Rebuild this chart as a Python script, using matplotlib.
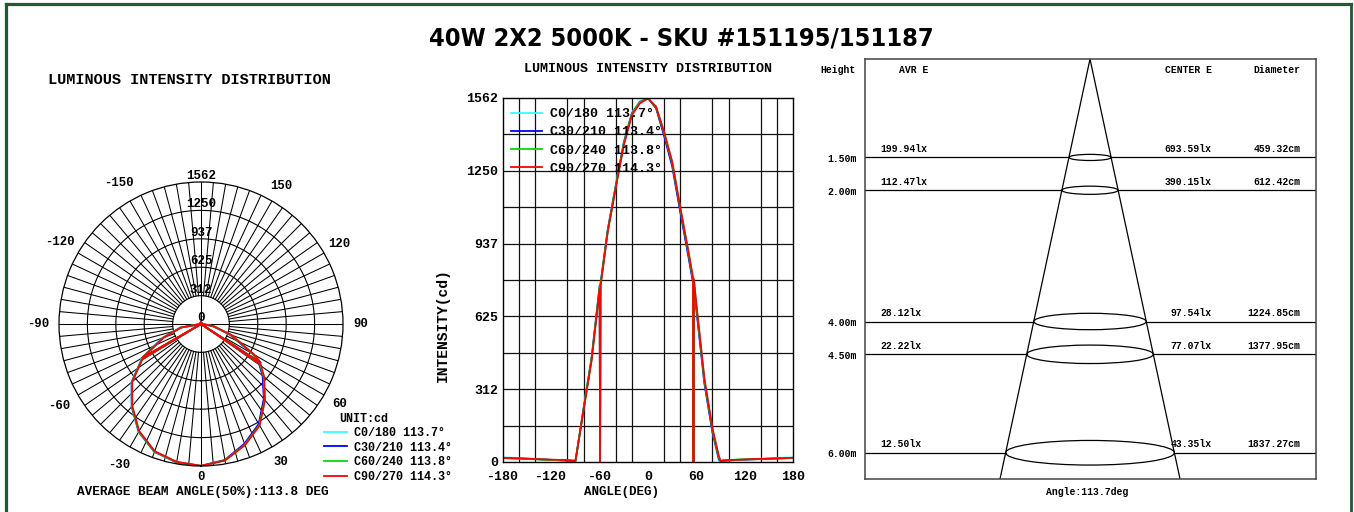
import numpy as np
import matplotlib
matplotlib.use("Agg")
from matplotlib import pyplot as plt
from matplotlib import font_manager as fm
from matplotlib.lines import Line2D
from matplotlib.patches import Ellipse

plt.rcParams["axes.unicode_minus"] = False

# photometric data (gamma angle in deg, intensity in cd)
angles = [-180, -150, -120, -100, -90, -80, -70, -60, -59.5, -59, -50, -40, -30, -20, -10, 0,
          10, 20, 30, 40, 50, 56, 56.5, 57, 60, 70, 80, 88, 90, 100, 120, 150, 180]
c0_180 = [20, 15, 10, 6, 4, 232, 450, 760, 0, 768, 1000, 1190, 1375, 1500, 1548, 1562,
          1520, 1405, 1275, 1080, 890, 770, 0, 762, 660, 340, 130, 4, 5, 9, 12, 16, 20]
c30_210 = [18, 14, 9, 6, 4, 228, 446, 755, 0, 762, 995, 1185, 1370, 1496, 1545, 1561,
           1518, 1400, 1270, 1075, 885, 768, 0, 760, 655, 338, 128, 12, 4, 7, 10, 14, 17]
c60_240 = [17, 13, 9, 7, 5, 226, 442, 750, 0, 758, 992, 1182, 1366, 1494, 1544, 1561,
           1523, 1412, 1284, 1090, 900, 780, 0, 775, 670, 350, 138, 18, 5, 8, 11, 14, 18]
c90_270 = [17, 14, 10, 8, 6, 222, 436, 743, 0, 752, 987, 1176, 1360, 1489, 1539, 1560,
           1525, 1417, 1290, 1095, 908, 790, 0, 785, 680, 360, 145, 25, 6, 8, 11, 14, 18]

series_labels = ["C0/180 113.7°", "C30/210 113.4°", "C60/240 113.8°", "C90/270 114.3°"]
series_colors = ["#33ffff", "#0000ff", "#00e000", "#ff0000"]
all_series = [c0_180, c30_210, c60_240, c90_270]

ring_values = [312, 625, 937, 1250, 1562]
angle_labels = [0, 30, 60, 90, 120, 150, -150, -120, -90, -60, -30]
y_ticks = [0, 312, 625, 937, 1250, 1562]
x_ticks = [-180, -120, -60, 0, 60, 120, 180]

# illuminance table
heights = [1.5, 2.0, 4.0, 4.5, 6.0]
height_labels = ["1.50m", "2.00m", "4.00m", "4.50m", "6.00m"]
avr_e = ["199.94lx", "112.47lx", "28.12lx", "22.22lx", "12.50lx"]
center_e = ["693.59lx", "390.15lx", "97.54lx", "77.07lx", "43.35lx"]
diameters = ["459.32cm", "612.42cm", "1224.85cm", "1377.95cm", "1837.27cm"]

W, H = 1354, 512
mono = "Liberation Mono"


def fx(x):
    return x / W


def fy(y):
    return 1 - y / H


# pick a condensed bold face for the title if one is installed
title_family = "DejaVu Sans"
for fam in ["Roboto", "DejaVu Sans", "Noto Sans", "Open Sans"]:
    p = fm.findfont(fm.FontProperties(family=fam, weight="bold", stretch="condensed"))
    if "Condensed" in p or "Narrow" in p:
        title_family = fam
        break

fig = plt.figure(figsize=(W / 100, H / 100), dpi=100)

# green frame
frame = "#1e5a33"
fig.add_artist(Line2D([fx(6), fx(6)], [0, fy(4)], color=frame, lw=2.3))
fig.add_artist(Line2D([fx(6), fx(1350.5)], [fy(4), fy(4)], color=frame, lw=2.3))
fig.add_artist(Line2D([fx(1350.5), fx(1350.5)], [0, fy(4)], color=frame, lw=2.0))

title = fig.text(fx(681), fy(38.5), "40W 2X2 5000K - SKU #151195/151187", ha="center",
                 va="center", fontsize=27, weight="bold", family=title_family,
                 fontstretch="condensed")
fig.canvas.draw()
tw = title.get_window_extent().width
title.set_fontsize(min(27, 27 * 505 / tw))

# ---------------- polar plot ----------------
R = 142
axp = fig.add_axes([fx(201 - R), fy(324 + R), R * 2 / W, R * 2 / H], projection="polar")
axp.set_theta_zero_location("S")
axp.set_theta_direction(1)
axp.set_ylim(0, 1562)
axp.set_xticks([])
axp.set_yticks([])
axp.grid(False)
axp.spines["polar"].set_color("black")
axp.spines["polar"].set_linewidth(0.9)

tt = np.linspace(0, 2 * np.pi, 361)
for rv in ring_values[:-1]:
    axp.plot(tt, np.full_like(tt, rv), color="black", lw=0.8)
for a in range(0, 360, 5):
    r0 = 0 if a % 90 == 0 else ring_values[0]
    axp.plot([np.radians(a)] * 2, [r0, 1562], color="black", lw=0.75)

th = np.radians(angles)
for vals, col in zip(all_series, series_colors):
    axp.plot(th, vals, color=col, lw=1.3)

for rv in [0] + ring_values:
    axp.text(np.pi, rv, str(rv), ha="center", va="bottom", fontsize=9, family=mono,
             weight="bold")
for a in angle_labels:
    k = 1.075 if a == 0 else (1.15 if a < 0 else 1.125)
    axp.text(np.radians(a), 1562 * k, str(a), ha="center", va="center", fontsize=8.8,
             family=mono, weight="bold")

fig.text(fx(189), fy(80), "LUMINOUS INTENSITY DISTRIBUTION", ha="center", va="center",
         fontsize=11, family=mono, weight="bold")
fig.text(fx(203), fy(492), "AVERAGE BEAM ANGLE(50%):113.8 DEG", ha="center", va="center",
         fontsize=9.2, family=mono, weight="bold")
fig.text(fx(339), fy(419), "UNIT:cd", ha="left", va="center", fontsize=8.5, family=mono,
         weight="bold")
handles = [Line2D([], [], color=c, lw=1.3) for c in series_colors]
fig.legend(handles, series_labels, loc="upper left", bbox_to_anchor=(fx(324), fy(427)),
           bbox_transform=fig.transFigure, frameon=False, borderpad=0, borderaxespad=0,
           handlelength=1.95, handletextpad=0.6, labelspacing=0.22,
           prop={"family": mono, "weight": "bold", "size": 8.5})

# ---------------- cartesian plot ----------------
axc = fig.add_axes([fx(503), fy(462), 290 / W, 364 / H])
for vals, col, lab in zip(all_series, series_colors, series_labels):
    axc.plot(angles, vals, color=col, lw=1.3, label=lab)
axc.set_xlim(-180, 180)
axc.set_ylim(0, 1562)
axc.set_xticks(x_ticks)
axc.set_yticks(y_ticks)
axc.set_xticks(np.arange(-180, 181, 20), minor=True)
axc.set_yticks(np.linspace(0, 1562, 11), minor=True)
axc.grid(True, which="minor", color="#111111", lw=0.9)
axc.tick_params(which="both", length=0)
axc.tick_params(axis="x", pad=6.5)
axc.tick_params(axis="y", pad=3.4)
for lab in axc.get_xticklabels() + axc.get_yticklabels():
    lab.set_family(mono)
    lab.set_weight("bold")
    lab.set_fontsize(9.5)
for sp in axc.spines.values():
    sp.set_linewidth(1.0)
axc.set_ylabel("INTENSITY(cd)", family=mono, weight="bold", fontsize=10.5)
axc.yaxis.set_label_coords(-0.207, 0.376)
axc.set_xlabel("ANGLE(DEG)", family=mono, weight="bold", fontsize=9)
axc.xaxis.set_label_coords(0.41, -0.082)
axc.xaxis.label.set_va("center")
axc.yaxis.label.set_va("center")
axc.legend(loc="upper left", bbox_to_anchor=(fx(510.7), fy(108)), bbox_transform=fig.transFigure,
           frameon=False, borderpad=0, borderaxespad=0, handlelength=2.4, handletextpad=0.55,
           labelspacing=0.45, prop={"family": mono, "weight": "bold", "size": 9.5})
fig.text(fx(648), fy(69), "LUMINOUS INTENSITY DISTRIBUTION", ha="center", va="center",
         fontsize=9.6, family=mono, weight="bold")

# ---------------- illuminance cone ----------------
axr = fig.add_axes([fx(865), fy(479), 451 / W, 420 / H])
axr.set_xlim(-16, 16.07)
axr.set_ylim(6.4, 0)
axr.set_xticks([])
axr.set_yticks([])
for sp in axr.spines.values():
    sp.set_color("#444444")
    sp.set_linewidth(1.1)
xmin, xmax = axr.get_xlim()
ybot = axr.get_ylim()[0]
axr.plot([0, -ybot], [0, ybot], color="black", lw=0.9)
axr.plot([0, ybot], [0, ybot], color="black", lw=0.9)
for h in heights:
    axr.add_patch(Ellipse((0, h), 2 * h, 0.0625 * h, fill=False, edgecolor="black", lw=0.9))
    axr.plot([xmin, -h], [h, h], color="black", lw=0.9)
    axr.plot([h, xmax], [h, h], color="black", lw=0.9)

tr = axr.get_yaxis_transform()
small = dict(family=mono, weight="bold", fontsize=7, va="center")
axr.text(-0.02, 0.167, "Height", transform=tr, ha="right", **small)
axr.text(0.075, 0.167, "AVR E", transform=tr, ha="left", **small)
axr.text(0.769, 0.167, "CENTER E", transform=tr, ha="right", **small)
axr.text(0.965, 0.167, "Diameter", transform=tr, ha="right", **small)
for h, hl, a, c, d in zip(heights, height_labels, avr_e, center_e, diameters):
    axr.text(-0.018, h + 0.02, hl, transform=tr, ha="right", **small)
    axr.text(0.033, h - 0.13, a, transform=tr, ha="left", **small)
    axr.text(0.769, h - 0.13, c, transform=tr, ha="right", **small)
    axr.text(0.965, h - 0.13, d, transform=tr, ha="right", **small)
axr.text(0.492, -0.03, "Angle:113.7deg", transform=axr.transAxes, ha="center", **small)

fig.savefig("out.png", dpi=100)
